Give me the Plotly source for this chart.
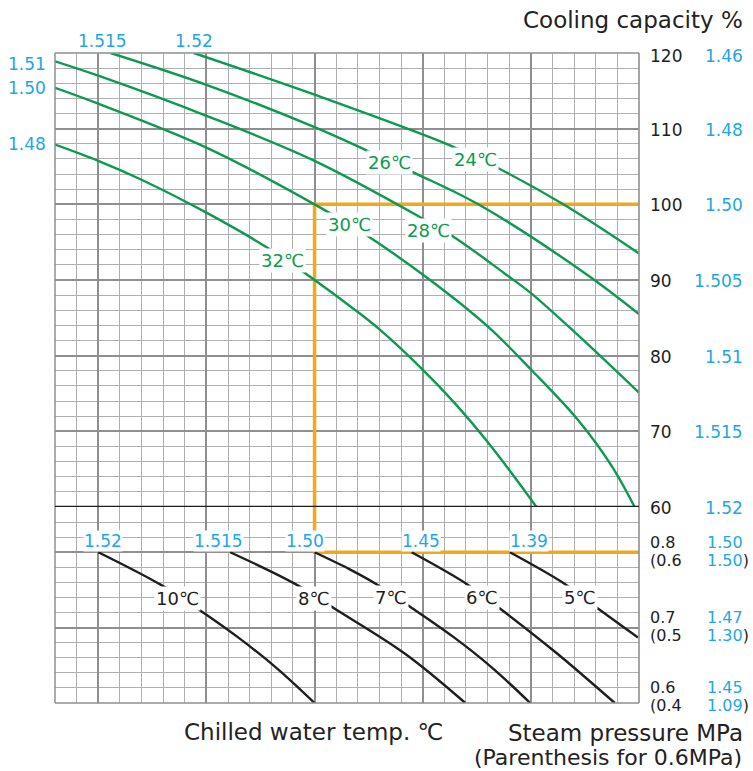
import plotly.graph_objects as go

# ---------------- data (x axis: grid units 0..27) ----------------
# Upper panel: cooling-water temperature curves, cooling capacity %
u24 = [6.42, 12.0, 18.18, 20.34, 23.5, 27.0]
c24 = [120.0, 114.5, 107.9, 105.0, 100.0, 93.5]
u26 = [2.57, 7.0, 12.0, 14.35, 16.66, 19.57, 24.5, 27.0]
c26 = [120.0, 115.8, 110.2, 107.2, 104.1, 100.0, 90.9, 85.5]
u28 = [0.0, 2.0, 7.0, 12.0, 16.95, 18.49, 20.77, 22.03, 24.18, 27.0]
c28 = [118.9, 117.0, 111.7, 105.75, 98.2, 95.6, 90.9, 88.2, 82.7, 75.1]
u30 = [0.0, 2.0, 7.0, 12.0, 14.35, 17.34, 20.03, 22.03, 24.18, 25.72, 26.8]
c30 = [115.4, 113.3, 107.5, 100.0, 96.0, 90.0, 83.8, 78.1, 71.5, 65.5, 60.0]
u32 = [0.0, 2.0, 4.0, 7.0, 9.8, 12.0, 13.66, 14.95, 16.95, 18.49, 20.03, 21.26, 22.26]
c32 = [107.9, 105.75, 103.25, 98.9, 94.3, 90.0, 86.5, 83.6, 78.3, 73.7, 68.5, 63.9, 60.0]

# Lower panel: chilled-water temperature curves, steam pressure MPa
u10 = [2.0, 4.88, 6.49, 8.42, 10.26, 12.0]
p10 = [0.8, 0.757, 0.727, 0.688, 0.646, 0.6]
u8 = [8.1, 11.1, 12.88, 16.2, 18.97]
p8 = [0.8, 0.758, 0.726, 0.665, 0.6]
u7 = [12.0, 13.65, 14.9, 16.4, 18.4, 20.2, 21.97]
p7 = [0.8, 0.777, 0.757, 0.728, 0.688, 0.647, 0.6]
u6 = [16.49, 19.03, 20.57, 23.2, 25.88]
p6 = [0.8, 0.758, 0.7254, 0.666, 0.6]
u5 = [21.03, 23.57, 25.1, 26.95]
p5 = [0.8, 0.758, 0.7254, 0.687]

# Rating point guide (orange)
guide_up_u = [27.0, 12.0, 12.0]
guide_up_c = [100.0, 100.0, 60.0]
guide_lo_u = [12.0, 12.0, 27.0]
guide_lo_p = [0.86, 0.8, 0.8]

# Curve labels
up_labels = ["24℃", "26℃", "28℃", "30℃", "32℃"]
up_label_u = [19.46, 15.46, 17.28, 13.61, 10.54]
up_label_c = [105.9, 105.56, 96.57, 97.3, 92.6]
lo_labels = ["10℃", "8℃", "7℃", "6℃", "5℃"]
lo_label_u = [5.68, 11.98, 15.54, 19.72, 24.29]
lo_label_p = [0.739, 0.739, 0.74, 0.74, 0.74]

# Blue ratio labels
top_blue = ["1.515", "1.52"]
top_blue_u = [2.2, 6.43]
left_blue = ["1.51", "1.50", "1.48"]
left_blue_c = [118.52, 115.37, 107.95]
lo_blue = ["1.52", "1.515", "1.50", "1.45", "1.39"]
lo_blue_u = [2.21, 7.57, 11.58, 16.94, 21.9]

# Right axis labels
cap_ticks = [120, 110, 100, 90, 80, 70, 60]
cap_blue = ["1.46", "1.48", "1.50", "1.505", "1.51", "1.515", "1.52"]
p_ticks = [0.8, 0.7, 0.6]
p_main = ["0.8", "0.7", "0.6"]
p_paren = ["(0.6", "(0.5", "(0.4"]
p_blue_main = ["1.50", "1.47", "1.45"]
p_blue_paren = ["1.50", "1.30", "1.09"]

# ---------------- styles ----------------
FONT = "DejaVu Sans"
GREEN = "#0c9a50"
BLUE = "#1ea7e4"
ORANGE = "#f2a81d"
BLACK = "#1e1e1e"
MINOR = "#b0b0b0"
MAJOR = "#8f8f8f"

fig = go.Figure()

def line(x, y, color, w, xa="x", ya="y", shape="spline"):
    fig.add_trace(go.Scatter(x=x, y=y, mode="lines", xaxis=xa, yaxis=ya,
                             line=dict(color=color, width=w, shape=shape, smoothing=1.0),
                             hoverinfo="skip", showlegend=False))

line(guide_up_u, guide_up_c, ORANGE, 3.5, shape="linear")
line(guide_lo_u, guide_lo_p, ORANGE, 3.5, "x2", "y2", shape="linear")

for uu, cc in [(u24, c24), (u26, c26), (u28, c28), (u30, c30), (u32, c32)]:
    line(uu, cc, GREEN, 2.4)
for uu, pp in [(u10, p10), (u8, p8), (u7, p7), (u6, p6), (u5, p5)]:
    line(uu, pp, BLACK, 2.4, "x2", "y2")

SPLIT = 196 / 650.0

xgrid = dict(range=[0, 27], tick0=2, dtick=5, showgrid=True, gridcolor=MAJOR, gridwidth=1.6,
             minor=dict(tick0=0, dtick=1, showgrid=True, gridcolor=MINOR, gridwidth=1.1),
             showticklabels=False, ticks="", zeroline=False, showline=False, fixedrange=True)

fig.update_layout(
    width=753, height=771,
    margin=dict(l=55, r=114, t=53, b=68),
    paper_bgcolor="white", plot_bgcolor="white",
    font=dict(family=FONT, color=BLACK),
    showlegend=False,
    xaxis=dict(domain=[0, 1], anchor="y", **xgrid),
    xaxis2=dict(domain=[0, 1], anchor="y2", **xgrid),
    yaxis=dict(domain=[SPLIT, 1], anchor="x", range=[60, 120], tick0=60, dtick=10,
               showgrid=True, gridcolor=MAJOR, gridwidth=1.5,
               minor=dict(tick0=60, dtick=2, showgrid=True, gridcolor=MINOR, gridwidth=1.3),
               showticklabels=False, ticks="", zeroline=False, showline=False),
    yaxis2=dict(domain=[0, SPLIT], anchor="x2", range=[0.6, 0.86], tick0=0.6, dtick=0.1,
                showgrid=True, gridcolor=MAJOR, gridwidth=1.5,
                minor=dict(tick0=0.6, dtick=0.02, showgrid=True, gridcolor=MINOR, gridwidth=1.3),
                showticklabels=False, ticks="", zeroline=False, showline=False),
)

shapes = [
    dict(type="line", xref="paper", yref="paper", x0=0, x1=0, y0=0, y1=1, line=dict(color=MAJOR, width=1.5)),
    dict(type="line", xref="paper", yref="paper", x0=1, x1=1, y0=0, y1=1, line=dict(color=MAJOR, width=1.6)),
    dict(type="line", xref="paper", yref="paper", x0=0, x1=1, y0=1, y1=1, line=dict(color=MAJOR, width=1.5)),
    dict(type="line", xref="paper", yref="paper", x0=0, x1=1, y0=0, y1=0, line=dict(color=MAJOR, width=1.5)),
    dict(type="line", xref="paper", yref="y", x0=0, x1=1, y0=60, y1=60, line=dict(color=BLACK, width=2.6)),
]
fig.update_layout(shapes=shapes)

ann = []
def A(**kw):
    ann.append(kw)

for t, x, y in zip(up_labels, up_label_u, up_label_c):
    A(x=x, y=y, xref="x", yref="y", text=t, showarrow=False, bgcolor="white", borderpad=1,
      font=dict(size=18, color=GREEN, family=FONT))
for t, x, y in zip(lo_labels, lo_label_u, lo_label_p):
    A(x=x, y=y, xref="x2", yref="y2", text=t, showarrow=False, bgcolor="white", borderpad=1,
      font=dict(size=18, color=BLACK, family=FONT))
for t, x in zip(top_blue, top_blue_u):
    A(x=x, y=120, xref="x", yref="y", yshift=12.5, text=t, showarrow=False,
      font=dict(size=17, color=BLUE, family=FONT))
for t, y in zip(left_blue, left_blue_c):
    A(x=0, y=y, xref="x", yref="y", xanchor="left", xshift=-49, text=t, showarrow=False,
      font=dict(size=17, color=BLUE, family=FONT))
for t, x in zip(lo_blue, lo_blue_u):
    A(x=x, y=0.8145, xref="x2", yref="y2", text=t, showarrow=False, bgcolor="white", borderpad=0,
      font=dict(size=17, color=BLUE, family=FONT))

for v, b in zip(cap_ticks, cap_blue):
    ys = -3 if v == 120 else -1
    A(x=1, y=v, xref="paper", yref="y", xanchor="left", xshift=9, yshift=ys, text=str(v),
      showarrow=False, font=dict(size=17, color=BLACK, family=FONT))
    A(x=1, y=v, xref="paper", yref="y", xanchor="right", xshift=106, yshift=ys, text=b,
      showarrow=False, font=dict(size=17, color=BLUE, family=FONT))

shift1 = [10, 10.5, 15.5]
shift2 = [-8, -7.5, -2.5]
for v, m, pz, bm, bp, s1, s2 in zip(p_ticks, p_main, p_paren, p_blue_main, p_blue_paren, shift1, shift2):
    A(x=1, y=v, xref="paper", yref="y2", xanchor="left", xshift=9, yshift=s1, text=m,
      showarrow=False, font=dict(size=16, color=BLACK, family=FONT))
    A(x=1, y=v, xref="paper", yref="y2", xanchor="left", xshift=9, yshift=s2, text=pz,
      showarrow=False, font=dict(size=16, color=BLACK, family=FONT))
    A(x=1, y=v, xref="paper", yref="y2", xanchor="right", xshift=106, yshift=s1, text=bm,
      showarrow=False, font=dict(size=16, color=BLUE, family=FONT))
    A(x=1, y=v, xref="paper", yref="y2", xanchor="right", xshift=112, yshift=s2,
      text='<span style="color:%s">%s</span>)' % (BLUE, bp),
      showarrow=False, font=dict(size=16, color=BLACK, family=FONT))

A(x=1, y=1, xref="paper", yref="paper", xanchor="right", yanchor="middle", xshift=106, yshift=33,
  text="Cooling capacity %", showarrow=False, font=dict(size=23, color="#222", family=FONT))
A(x=0, y=0, xref="paper", yref="paper", xanchor="left", yanchor="middle", xshift=127, yshift=-29,
  text="Chilled water temp. ℃", showarrow=False, font=dict(size=23, color="#222", family=FONT))
A(x=1, y=0, xref="paper", yref="paper", xanchor="right", yanchor="middle", xshift=106, yshift=-30,
  text="Steam pressure MPa", showarrow=False, font=dict(size=23, color="#222", family=FONT))
A(x=1, y=0, xref="paper", yref="paper", xanchor="right", yanchor="middle", xshift=105, yshift=-54,
  text="(Parenthesis for 0.6MPa)", showarrow=False, font=dict(size=22, color="#222", family=FONT))

fig.update_layout(annotations=ann)
fig.write_html("out.html", config={"displayModeBar": False})
